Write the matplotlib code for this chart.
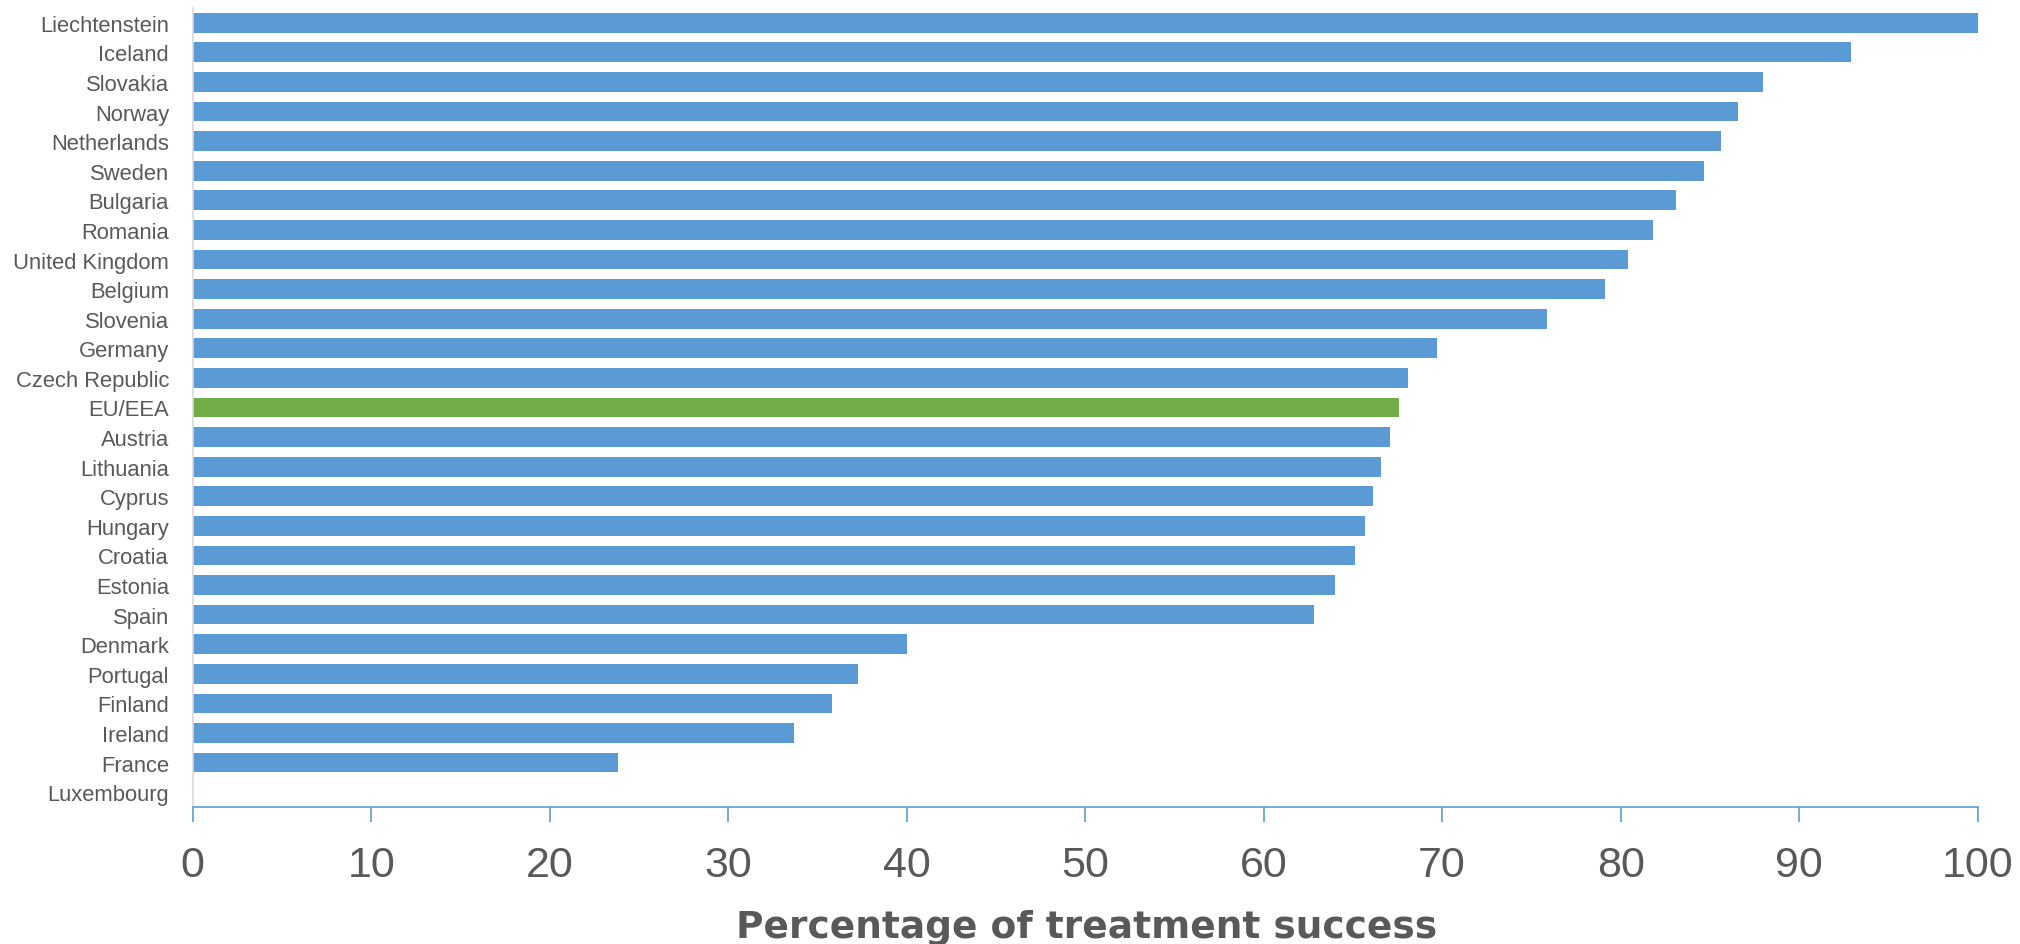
import matplotlib.pyplot as plt
from matplotlib import font_manager

countries = ['Liechtenstein', 'Iceland', 'Slovakia', 'Norway', 'Netherlands', 'Sweden',
             'Bulgaria', 'Romania', 'United Kingdom', 'Belgium', 'Slovenia', 'Germany',
             'Czech Republic', 'EU/EEA', 'Austria', 'Lithuania', 'Cyprus', 'Hungary',
             'Croatia', 'Estonia', 'Spain', 'Denmark', 'Portugal', 'Finland', 'Ireland',
             'France', 'Luxembourg']
success = [100.0, 92.9, 88.0, 86.6, 85.6, 84.7,
           83.1, 81.8, 80.4, 79.1, 75.9, 69.7,
           68.1, 67.6, 67.1, 66.6, 66.1, 65.7,
           65.1, 64.0, 62.8, 40.0, 37.3, 35.8, 33.7,
           23.8, 0.0]
xticks = [0, 10, 20, 30, 40, 50, 60, 70, 80, 90, 100]

BLUE = '#5B9BD5'
GREEN = '#70AD47'
GREY = '#595959'

plt.rcParams['font.family'] = ['Liberation Sans', 'DejaVu Sans']

# narrow digits on the value axis, if the narrow face is around
installed = {f.name for f in font_manager.fontManager.ttflist}
if 'Liberation Sans Narrow' in installed:
    tick_font, tick_size = 'Liberation Sans Narrow', 33
else:
    tick_font, tick_size = 'Liberation Sans', 31

fig = plt.figure(figsize=(20.2, 9.45), dpi=100)
ax = fig.add_axes([0.0954, 0.145, 0.979 - 0.0954, 0.9905 - 0.145])

colors = [GREEN if c == 'EU/EEA' else BLUE for c in countries]
ypos = list(range(len(countries)))
ax.barh(ypos, success, height=0.667, color=colors)

ax.set_ylim(len(countries) - 0.5, -0.5)
ax.set_xlim(0, 100)
ax.set_yticks(ypos)
ax.set_yticklabels(countries, fontsize=15.8, color=GREY)
ax.tick_params(axis='y', length=0, pad=17)

ax.set_xticks(xticks)
ax.set_xticklabels([str(t) for t in xticks], fontsize=tick_size, color=GREY, family=tick_font)
ax.tick_params(axis='x', direction='out', length=10.5, width=1.2, color=BLUE, pad=17)

for side in ['top', 'right']:
    ax.spines[side].set_visible(False)
ax.spines['left'].set_color('#D9D9D9')
ax.spines['left'].set_linewidth(1.2)
ax.spines['bottom'].set_color(BLUE)
ax.spines['bottom'].set_linewidth(1.2)

fig.text(0.538, 1 - 938 / 945, 'Percentage of treatment success', ha='center', va='baseline',
         fontsize=27, fontweight='bold', color=GREY, family=['DejaVu Sans'])

fig.savefig('out.png', dpi=100)
